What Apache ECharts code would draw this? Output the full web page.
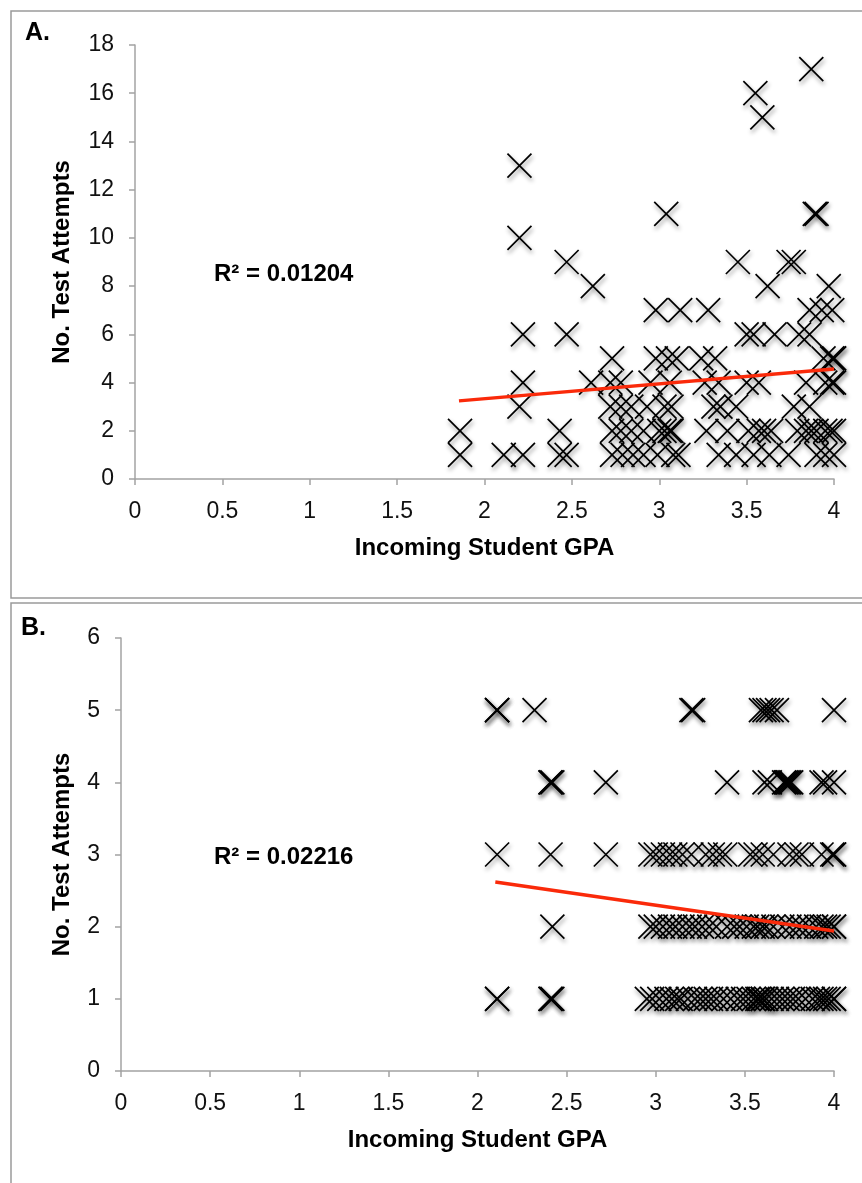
<!DOCTYPE html>
<html>
<head>
<meta charset="utf-8">
<script src="https://cdn.jsdelivr.net/npm/echarts@6/dist/echarts.min.js"></script>
<style>
  html, body { margin: 0; padding: 0; background: #fff; }
  #chart { width: 862px; height: 1183px; }
</style>
</head>
<body>
<div id="chart"></div>
<script>
  // panel A: attempts value and the GPAs plotted at that value
  const attemptsA = [17, 16, 15, 13, 11, 10, 9, 8, 7, 6, 5, 4, 3, 2, 1];
  const gpaA = [
    [3.87],
    [3.55],
    [3.59],
    [2.2],
    [3.04, 3.89, 3.9],
    [2.2],
    [2.47, 3.45, 3.74, 3.77],
    [2.62, 3.62, 3.97],
    [2.98, 3.12, 3.28, 3.86, 3.93, 3.99],
    [2.22, 2.47, 3.5, 3.54, 3.66, 3.8, 3.86],
    [2.73, 2.98, 3.05, 3.1, 3.24, 3.32, 3.94, 3.99, 4.0, 4.0],
    [2.22, 2.61, 2.72, 2.78, 2.95, 3.06, 3.26, 3.34, 3.5, 3.57, 3.84, 3.95, 3.99, 4.0],
    [2.2, 2.72, 2.78, 2.84, 2.93, 3.03, 3.07, 3.31, 3.35, 3.44, 3.77, 3.86],
    [1.86, 2.43, 2.73, 2.78, 2.84, 2.91, 3.0, 3.03, 3.06, 3.07, 3.27, 3.39, 3.51, 3.57, 3.6, 3.64, 3.79, 3.84, 3.87, 3.9, 3.95, 3.98, 4.0],
    [1.86, 2.11, 2.22, 2.43, 2.47, 2.73, 2.79, 2.85, 2.91, 2.99, 3.08, 3.11, 3.34, 3.44, 3.54, 3.63, 3.74, 3.9, 3.95, 4.0]
  ];
  const trendA = [[1.854, 3.24], [4.0, 4.56]];

  // panel B
  const attemptsB = [5, 4, 3, 2, 1];
  const gpaB = [
    [2.11, 2.11, 2.11, 2.32, 3.2, 3.21, 3.59, 3.61, 3.63, 3.65, 3.68, 4.0],
    [2.41, 2.41, 2.42, 2.72, 3.40, 3.61, 3.64, 3.72, 3.73, 3.74, 3.75, 3.76, 3.93, 3.95, 4.0],
    [2.11, 2.41, 2.72, 2.97, 3.0, 3.04, 3.08, 3.11, 3.15, 3.2, 3.28, 3.32, 3.36, 3.39, 3.53, 3.56, 3.6, 3.66, 3.75, 3.79, 3.82, 3.93, 3.99, 4.0, 4.0],
    [2.42, 2.97, 3.0, 3.04, 3.08, 3.11, 3.15, 3.19, 3.22, 3.26, 3.30, 3.34, 3.4, 3.44, 3.47, 3.51, 3.55, 3.57, 3.6, 3.62, 3.66, 3.71, 3.75, 3.79, 3.82, 3.86, 3.9, 3.93, 3.95, 3.97, 4.0, 4.0],
    [2.11, 2.11, 2.41, 2.41, 2.42, 2.95, 2.98, 3.02, 3.06, 3.09, 3.12, 3.14, 3.18, 3.22, 3.25, 3.28, 3.31, 3.34, 3.38, 3.42, 3.46, 3.49, 3.52, 3.55, 3.57, 3.58, 3.6, 3.6, 3.62, 3.65, 3.68, 3.71, 3.74, 3.77, 3.8, 3.84, 3.88, 3.91, 3.93, 3.95, 3.97, 4.0, 4.0]
  ];
  const trendB = [[2.10, 2.62], [4.0, 1.94]];

  const xTicks = [0, 0.5, 1, 1.5, 2, 2.5, 3, 3.5, 4];

  function toPoints(attempts, gpas) {
    let out = [];
    attempts.forEach(function (a, i) {
      gpas[i].forEach(function (g) { out.push([g, a]); });
    });
    return out;
  }

  const FONT = '"Liberation Sans", Arial, sans-serif';
  const axisGray = '#a3a3a3';
  const crossSymbol = 'path://M0,0L20,20M20,0L0,20';

  function xAxisCfg(grid) {
    return {
      type: 'value', gridIndex: grid, min: 0, max: 4, interval: 0.5,
      name: 'Incoming Student GPA', nameLocation: 'middle', nameGap: 57,
      nameTextStyle: { fontFamily: FONT, fontSize: 24, fontWeight: 'bold', color: '#000' },
      axisLine: { lineStyle: { color: axisGray, width: 1.5 } },
      axisTick: { length: 6, lineStyle: { color: axisGray, width: 1.5 } },
      axisLabel: { fontFamily: FONT, fontSize: 23, color: '#111', margin: 21,
        formatter: function (v) { return xTicks.indexOf(v) >= 0 ? String(v) : ''; } },
      splitLine: { show: false }
    };
  }
  function yAxisCfg(grid, max, interval, gap) {
    return {
      type: 'value', gridIndex: grid, min: 0, max: max, interval: interval,
      name: 'No. Test Attempts', nameLocation: 'middle', nameGap: gap, nameRotate: 90,
      nameTextStyle: { fontFamily: FONT, fontSize: 24, fontWeight: 'bold', color: '#000' },
      axisLine: { show: true, lineStyle: { color: axisGray, width: 1.5 } },
      axisTick: { show: true, length: 6, lineStyle: { color: axisGray, width: 1.5 } },
      axisLabel: { fontFamily: FONT, fontSize: 23, color: '#111', margin: 21 },
      splitLine: { show: false }
    };
  }
  function scatterCfg(idx, data) {
    return {
      type: 'scatter', xAxisIndex: idx, yAxisIndex: idx, data: data,
      symbol: crossSymbol, symbolSize: 24,
      itemStyle: {
        color: 'rgba(0,0,0,0)', borderColor: '#000', borderWidth: 1.7, opacity: 1,
        shadowBlur: 4, shadowOffsetX: 1, shadowOffsetY: 3, shadowColor: 'rgba(0,0,0,0.45)'
      },
      silent: true, z: 2
    };
  }
  function trendCfg(idx, data) {
    return {
      type: 'line', xAxisIndex: idx, yAxisIndex: idx, data: data,
      symbol: 'none', lineStyle: { color: '#fa2a0a', width: 3.5 }, z: 3, silent: true
    };
  }

  const chart = echarts.init(document.getElementById('chart'));
  chart.setOption({
    animation: false,
    backgroundColor: '#fff',
    grid: [
      { left: 135, top: 45, width: 699, height: 434 },
      { left: 121, top: 638, width: 713, height: 433 }
    ],
    xAxis: [xAxisCfg(0), xAxisCfg(1)],
    yAxis: [yAxisCfg(0, 18, 2, 61), yAxisCfg(1, 6, 1, 47)],
    series: [
      scatterCfg(0, toPoints(attemptsA, gpaA)),
      trendCfg(0, trendA),
      scatterCfg(1, toPoints(attemptsB, gpaB)),
      trendCfg(1, trendB)
    ],
    graphic: [
      { type: 'rect', shape: { x: 11, y: 11, width: 900, height: 587 },
        style: { fill: 'none', stroke: '#9a9a9a', lineWidth: 1.5 }, z: -1 },
      { type: 'rect', shape: { x: 11, y: 603, width: 900, height: 700 },
        style: { fill: 'none', stroke: '#9a9a9a', lineWidth: 1.5 }, z: -1 },
      { type: 'text', left: 25, top: 21,
        style: { text: 'A.', font: 'bold 25px ' + FONT, fill: '#000' } },
      { type: 'text', left: 21, top: 616,
        style: { text: 'B.', font: 'bold 25px ' + FONT, fill: '#000' } },
      { type: 'text', left: 214, top: 262,
        style: { text: 'R² = 0.01204', font: 'bold 24px ' + FONT, fill: '#000' } },
      { type: 'text', left: 214, top: 845,
        style: { text: 'R² = 0.02216', font: 'bold 24px ' + FONT, fill: '#000' } }
    ]
  });
</script>
</body>
</html>
